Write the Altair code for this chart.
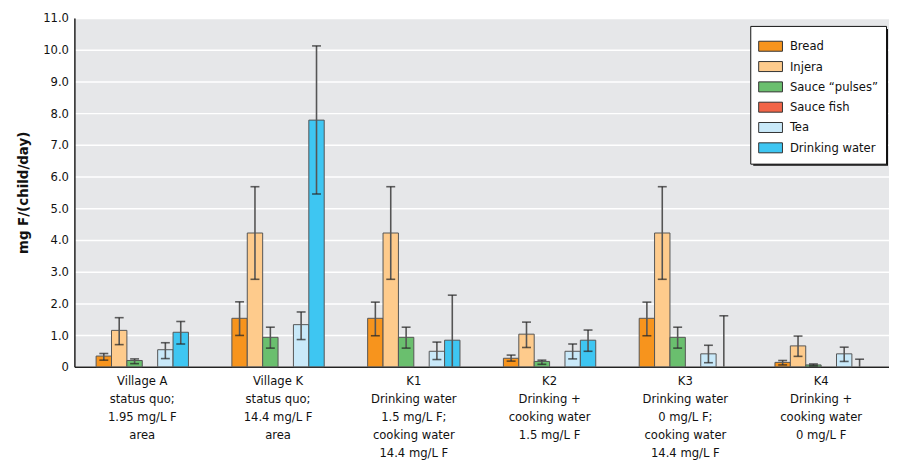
import altair as alt
import pandas as pd

groups = [
    "Village A|status quo;|1.95 mg/L F|area",
    "Village K|status quo;|14.4 mg/L F|area",
    "K1|Drinking water|1.5 mg/L F;|cooking water|14.4 mg/L F",
    "K2|Drinking +|cooking water|1.5 mg/L F",
    "K3|Drinking water|0 mg/L F;|cooking water|14.4 mg/L F",
    "K4|Drinking +|cooking water|0 mg/L F",
]
series = ["Bread", "Injera", "Sauce \u201cpulses\u201d", "Sauce fish", "Tea", "Drinking water"]
colors = ["#F7941D", "#FECB8C", "#6ABF6E", "#F26548", "#C9E9F9", "#3EC6F2"]
y_ticks = [0, 1, 2, 3, 4, 5, 6, 7, 8, 9, 10, 11]

bread = [0.34, 1.53, 1.53, 0.27, 1.53, 0.14]
bread_lo = [0.21, 0.99, 0.98, 0.18, 0.98, 0.06]
bread_hi = [0.42, 2.05, 2.04, 0.37, 2.04, 0.20]
injera = [1.15, 4.22, 4.22, 1.03, 4.22, 0.66]
injera_lo = [0.70, 2.76, 2.76, 0.61, 2.76, 0.33]
injera_hi = [1.55, 5.68, 5.68, 1.41, 5.68, 0.97]
pulses = [0.20, 0.93, 0.93, 0.17, 0.93, 0.06]
pulses_lo = [0.10, 0.59, 0.59, 0.08, 0.59, 0.03]
pulses_hi = [0.25, 1.25, 1.25, 0.21, 1.25, 0.09]
tea = [0.54, 1.33, 0.49, 0.49, 0.41, 0.41]
tea_lo = [0.26, 0.86, 0.23, 0.25, 0.13, 0.17]
tea_hi = [0.76, 1.73, 0.78, 0.72, 0.68, 0.62]
water = [1.09, 7.78, 0.84, 0.84, 0.0, 0.0]
water_lo = [0.72, 5.45, 0.0, 0.49, 0.0, 0.0]
water_hi = [1.43, 10.12, 2.26, 1.16, 1.61, 0.24]

table = [
    (series[0], bread, bread_lo, bread_hi),
    (series[1], injera, injera_lo, injera_hi),
    (series[2], pulses, pulses_lo, pulses_hi),
    (series[4], tea, tea_lo, tea_hi),
    (series[5], water, water_lo, water_hi),
]
rows = []
for name, vals, los, his in table:
    for g, v, lo, hi in zip(groups, vals, los, his):
        rows.append({"group": g, "series": name, "value": v, "lo": lo, "hi": hi})
df = pd.DataFrame(rows)

FONT = "Liberation Sans Narrow, DejaVu Sans Condensed, sans-serif"

x_enc = alt.X("group:N", sort=groups, title=None,
              scale=alt.Scale(paddingInner=0.32, paddingOuter=0.16),
              axis=alt.Axis(labelExpr="split(datum.label, '|')", labelAngle=0,
                            labelFontSize=13, labelLineHeight=18, labelPadding=8,
                            ticks=False, domainColor="#222", domainWidth=1.5,
                            labelColor="#111", labelFont=FONT, labelBaseline="top"))
xo_enc = alt.XOffset("series:N", sort=series, scale=alt.Scale(domain=series, paddingInner=0))

y_scale = alt.Scale(domain=[0, 11], nice=False)
y_axis = alt.Axis(values=y_ticks, labelOverlap=False,
                  labelExpr="datum.value == 0 ? '0' : format(datum.value, '.1f')",
                  ticks=False, domainColor="#222", domainWidth=1.5,
                  gridColor="#FFFFFF", gridWidth=1.5,
                  labelFontSize=13, labelFont=FONT, labelColor="#111",
                  labelPadding=6,
                  titleFontSize=15, titleFont=FONT, titleFontWeight="bold",
                  titleColor="#111", titlePadding=12)
Y_TITLE = "mg F/(child/day)"

LEG_X, LEG_Y = 682, 8

base = alt.Chart(df)

bars = base.transform_filter("datum.value > 0").mark_bar(
    stroke="#555", strokeWidth=1
).encode(
    x=x_enc,
    xOffset=xo_enc,
    y=alt.Y("value:Q", title=Y_TITLE, scale=y_scale, axis=y_axis),
    color=alt.Color("series:N", scale=alt.Scale(domain=series, range=colors),
                    sort=series,
                    legend=alt.Legend(title=None, orient="none", legendX=LEG_X, legendY=LEG_Y,
                                      fillColor="#FFFFFF", strokeColor="#111",
                                      padding=8, labelFontSize=13, labelFont=FONT,
                                      labelColor="#111",
                                      symbolType="M-1,-0.42H1V0.42H-1Z", symbolSize=576,
                                      symbolStrokeColor="#333", symbolStrokeWidth=1,
                                      symbolOpacity=1, rowPadding=0.5, labelOffset=7)),
)

rules = base.mark_rule(color="#555", strokeWidth=1.6).encode(
    x=x_enc, xOffset=xo_enc,
    y=alt.Y("lo:Q", title=Y_TITLE, scale=y_scale, axis=y_axis), y2="hi:Q")

caps_hi = base.mark_tick(color="#222", size=9, thickness=1.6).encode(
    x=x_enc, xOffset=xo_enc,
    y=alt.Y("hi:Q", title=Y_TITLE, scale=y_scale, axis=y_axis))
caps_lo = base.transform_filter("datum.lo > 0").mark_tick(
    color="#222", size=9, thickness=1.6).encode(
    x=x_enc, xOffset=xo_enc,
    y=alt.Y("lo:Q", title=Y_TITLE, scale=y_scale, axis=y_axis))

# drop shadow behind the legend box (decoration only), offset 3px right/down
shadow = alt.Chart(pd.DataFrame({"k": [0]})).mark_rect(color="#111").encode(
    x=alt.value(LEG_X + 3), x2=alt.value(LEG_X + 3 + 136),
    y=alt.value(LEG_Y + 3), y2=alt.value(LEG_Y + 3 + 138))

chart = alt.layer(bars, rules, caps_hi, caps_lo, shadow).properties(
    width=822, height=352,
    autosize=alt.AutoSizeParams(type="none"),
    padding={"left": 67, "top": 8, "right": 0, "bottom": 100},
).configure_view(fill="#E6E7E9", stroke=None)

chart.save("out.html", embed_options={"renderer": "svg", "actions": False})
